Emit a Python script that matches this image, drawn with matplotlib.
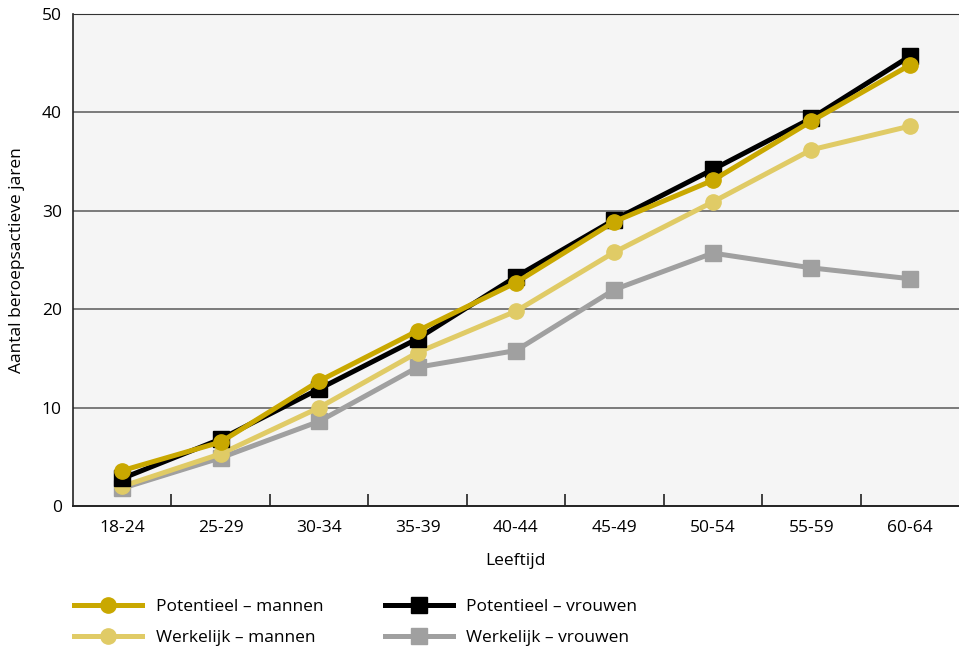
import matplotlib.pyplot as plt
import numpy as np

plt.rcParams['font.family'] = ['Open Sans', 'DejaVu Sans']

leeftijd = ['18-24', '25-29', '30-34', '35-39', '40-44', '45-49', '50-54', '55-59', '60-64']

potentieel_mannen = [3.6, 6.5, 12.7, 17.8, 22.7, 28.9, 33.1, 39.1, 44.8]
potentieel_vrouwen = [2.8, 6.8, 11.9, 17.0, 23.3, 29.1, 34.2, 39.4, 45.7]
werkelijk_mannen = [2.0, 5.3, 10.0, 15.6, 19.8, 25.8, 30.9, 36.2, 38.6]
werkelijk_vrouwen = [1.8, 4.9, 8.6, 14.1, 15.8, 22.0, 25.7, 24.2, 23.1]

fig = plt.figure(figsize=(9.59, 6.47), dpi=100)
ax = fig.add_axes([0.0761, 0.2179, 0.9239, 0.7605])
ax.set_facecolor('#f5f5f5')

x = np.arange(len(leeftijd))
lw = 3.6
ms = 11

wv, = ax.plot(x, werkelijk_vrouwen, color='#a0a0a0', lw=lw, marker='s', ms=ms, zorder=3,
              label='Werkelijk – vrouwen')
wm, = ax.plot(x, werkelijk_mannen, color='#e0cb66', lw=lw, marker='o', ms=ms, zorder=4,
              label='Werkelijk – mannen')
pv, = ax.plot(x, potentieel_vrouwen, color='black', lw=lw, marker='s', ms=ms, zorder=5,
              label='Potentieel – vrouwen')
pm, = ax.plot(x, potentieel_mannen, color='#c9a800', lw=lw, marker='o', ms=ms, zorder=6,
              label='Potentieel – mannen')

ax.set_xlim(-0.5, len(leeftijd) - 0.5)
ax.set_ylim(0, 50)
ax.set_yticks([0, 10, 20, 30, 40, 50])
ax.set_xticks(x)
ax.set_xticklabels(leeftijd)
ax.set_xticks(x[:-1] + 0.5, minor=True)
ax.tick_params(axis='x', which='major', length=0, pad=10, labelsize=12.5)
ax.tick_params(axis='x', which='minor', direction='in', length=9, width=1.2, color='#222222')
ax.tick_params(axis='y', length=0, pad=8, labelsize=12.5)

for v in [10, 20, 30, 40]:
    ax.axhline(v, color='#666666', lw=1.2, zorder=1)

ax.spines['right'].set_visible(False)
ax.spines['top'].set_color('#333333')
ax.spines['left'].set_color('#222222')
ax.spines['bottom'].set_color('#222222')
ax.spines['left'].set_linewidth(1.2)
ax.spines['bottom'].set_linewidth(1.4)

ax.set_xlabel('Leeftijd', fontsize=12.5, labelpad=12)
ax.set_ylabel('Aantal beroepsactieve jaren', fontsize=12.5, labelpad=12)

fig.legend(handles=[pm, wm, pv, wv], ncol=2, loc='lower left',
           bbox_to_anchor=(0.061, -0.022), frameon=False, fontsize=12.5,
           handlelength=3.9, handletextpad=0.8, columnspacing=3.55, labelspacing=0.85)

fig.savefig('out.png', dpi=100)
